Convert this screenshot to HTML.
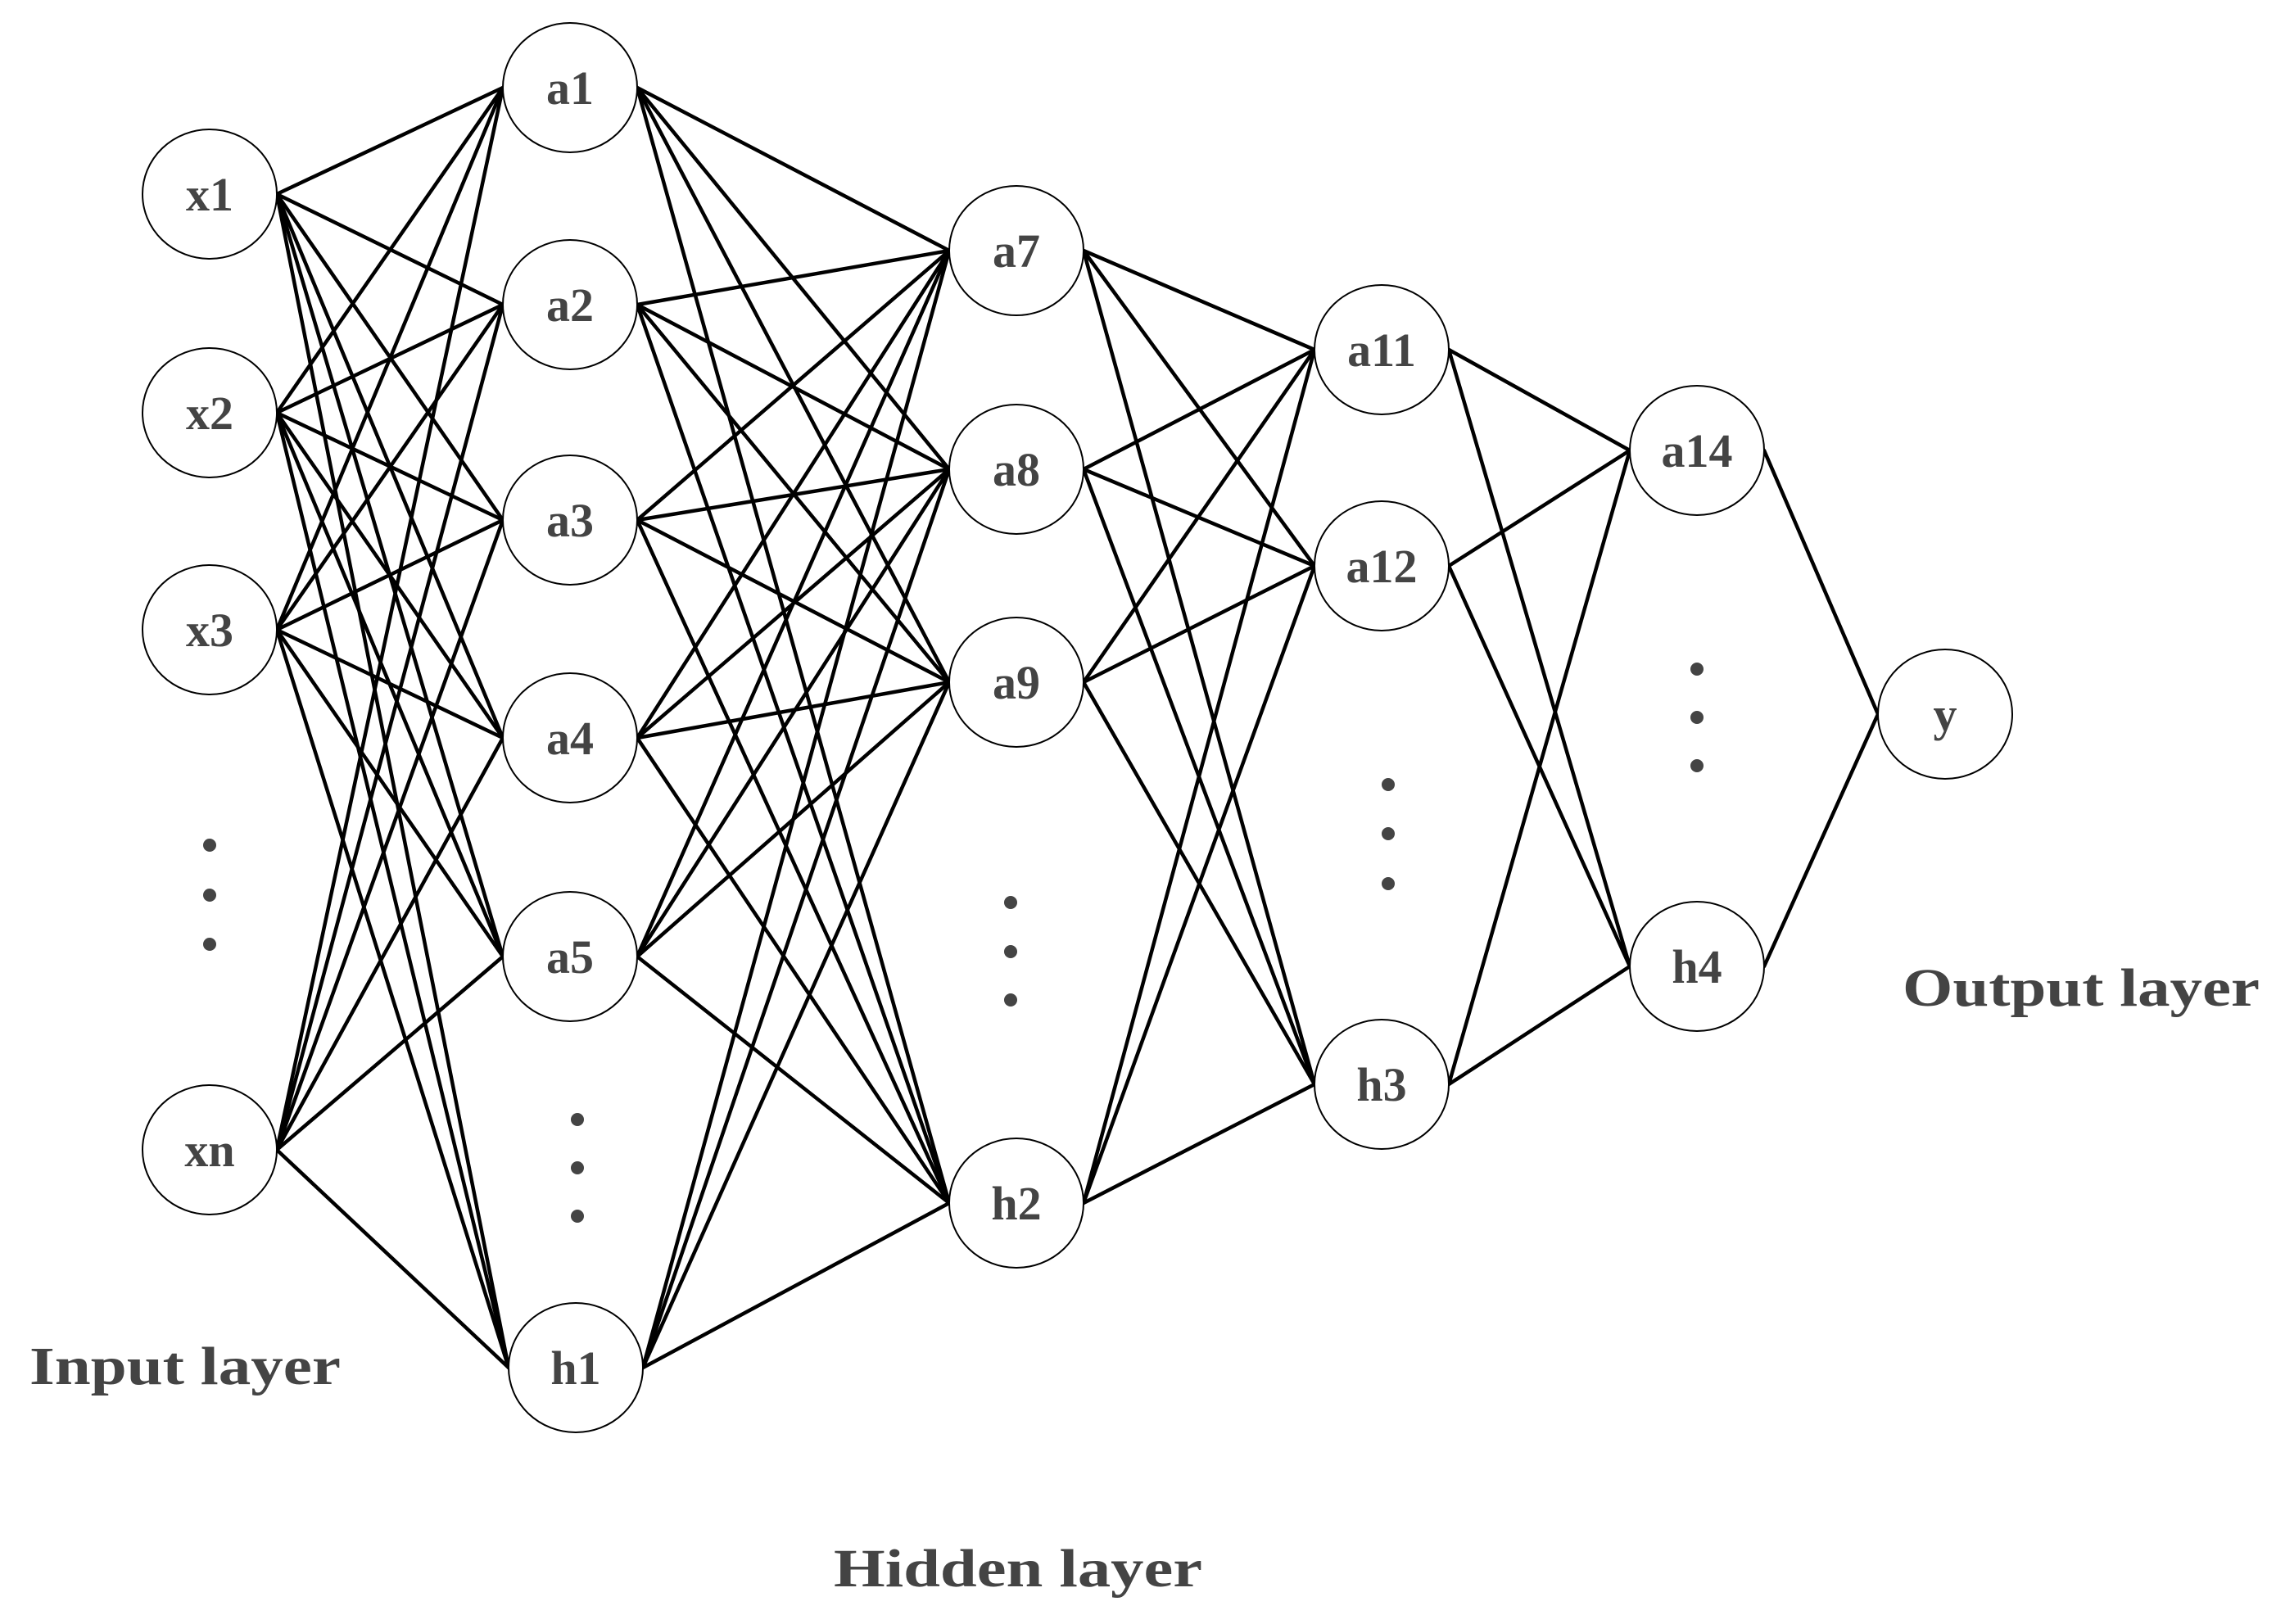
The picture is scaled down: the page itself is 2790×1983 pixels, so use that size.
<!DOCTYPE html>
<html><head><meta charset="utf-8"><style>
html,body{margin:0;padding:0;background:#fff;}
svg{display:block;}
text{font-family:"Liberation Serif",serif;font-weight:bold;fill:#444;}
</style></head><body>
<svg id="s" width="2790" height="1983" viewBox="0 0 2790 1983" xmlns="http://www.w3.org/2000/svg">
<g id="lines" stroke="#000" stroke-width="4.5" stroke-linecap="round"></g>
<g id="nodes"></g>
<g fill="#444">
<circle cx="256" cy="1032" r="8"/><circle cx="256" cy="1093" r="8"/><circle cx="256" cy="1153" r="8"/>
<circle cx="705" cy="1367" r="8"/><circle cx="705" cy="1426" r="8"/><circle cx="705" cy="1485" r="8"/>
<circle cx="1234" cy="1102" r="8"/><circle cx="1234" cy="1162" r="8"/><circle cx="1234" cy="1221" r="8"/>
<circle cx="1695" cy="958" r="8"/><circle cx="1695" cy="1018" r="8"/><circle cx="1695" cy="1079" r="8"/>
<circle cx="2072" cy="817" r="8"/><circle cx="2072" cy="876" r="8"/><circle cx="2072" cy="935" r="8"/>
</g>
<text x="36" y="1690" font-size="66" textLength="380" lengthAdjust="spacingAndGlyphs">Input layer</text>
<text x="1018" y="1937" font-size="66" textLength="450" lengthAdjust="spacingAndGlyphs">Hidden layer</text>
<text x="2323" y="1228" font-size="66" textLength="436" lengthAdjust="spacingAndGlyphs">Output layer</text>
</svg>
<script>
var layers=[
 [["x1",256,237],["x2",256,504],["x3",256,769],["xn",256,1404]],
 [["a1",696,107],["a2",696,372],["a3",696,635],["a4",696,901],["a5",696,1168],["h1",703,1670]],
 [["a7",1241,306],["a8",1241,573],["a9",1241,833],["h2",1241,1469]],
 [["a11",1687,427],["a12",1687,691],["h3",1687,1324]],
 [["a14",2072,550],["h4",2072,1180]],
 [["y",2375,872]]
];
var rx=82,ry=79,NS="http://www.w3.org/2000/svg";
var L=document.getElementById("lines"),N=document.getElementById("nodes");
for(var i=0;i<layers.length-1;i++){
 layers[i].forEach(function(a){layers[i+1].forEach(function(b){
  var l=document.createElementNS(NS,"line");
  l.setAttribute("x1",a[1]+rx);l.setAttribute("y1",a[2]);
  l.setAttribute("x2",b[1]-rx);l.setAttribute("y2",b[2]);
  L.appendChild(l);});});
}
layers.forEach(function(ly){ly.forEach(function(n){
 var e=document.createElementNS(NS,"ellipse");
 e.setAttribute("cx",n[1]);e.setAttribute("cy",n[2]);e.setAttribute("rx",rx);e.setAttribute("ry",ry);
 e.setAttribute("fill","#fff");e.setAttribute("stroke","#000");e.setAttribute("stroke-width","2");
 N.appendChild(e);
 var t=document.createElementNS(NS,"text");
 t.setAttribute("x",n[1]);t.setAttribute("y",n[2]+20);t.setAttribute("text-anchor","middle");
 t.setAttribute("font-size","58");t.textContent=n[0];
 N.appendChild(t);
});});
</script>
</body></html>
